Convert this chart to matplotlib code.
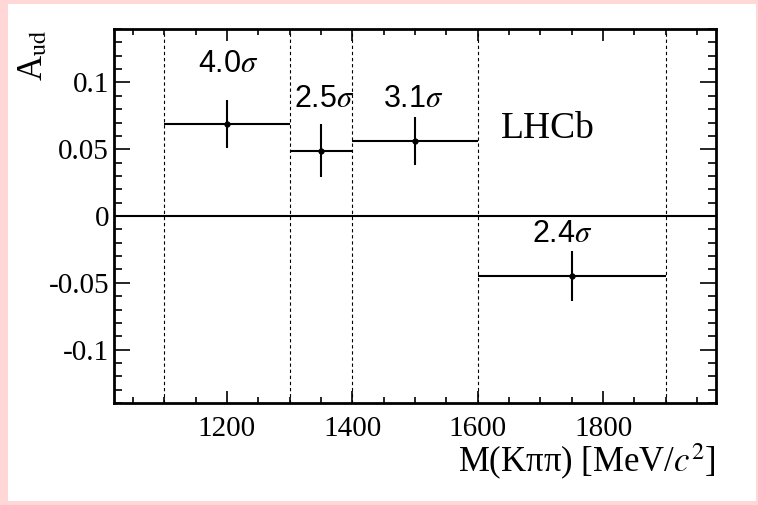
import numpy as np
import matplotlib.pyplot as plt
from matplotlib.patches import Rectangle
from matplotlib.ticker import MultipleLocator

# bins in M(Kpipi) [MeV/c^2]
bin_lo = [1100, 1300, 1400, 1600]
bin_hi = [1300, 1400, 1600, 1900]
a_ud = [0.069, 0.049, 0.056, -0.045]
a_err = [0.018, 0.020, 0.018, 0.019]
signif = ['4.0', '2.5', '3.1', '2.4']

plt.rcParams['font.family'] = ['Liberation Serif', 'DejaVu Serif']
plt.rcParams['mathtext.fontset'] = 'stix'

fig = plt.figure(figsize=(7.58, 5.05), dpi=100)
fig.patch.set_facecolor('#ffd7d7')
fig.patches.append(Rectangle((8/758, 4/505), 748/758, 497/505, transform=fig.transFigure,
                             facecolor='white', edgecolor='none', zorder=-10))

ax = fig.add_axes([114/758, 1-403/505, 602/758, 374/505])
ax.set_zorder(1)

lo = np.array(bin_lo)
hi = np.array(bin_hi)
xc = (lo + hi) / 2
xe = (hi - lo) / 2

# bin edges as dashed lines
for e in sorted(set(bin_lo + bin_hi)):
    ax.axvline(e, color='black', ls=(0, (3, 2.5)), lw=0.8, zorder=1)
ax.axhline(0, color='black', lw=1.5, zorder=1)

ax.errorbar(xc, a_ud, xerr=xe, yerr=a_err, fmt='o', ms=3.5, color='black',
            elinewidth=1.5, capsize=0, zorder=3)

# significance labels
lab_pos = [(1202, 0.1075), (1356, 0.0813), (1498, 0.0813), (1735, -0.0194)]
for (x, y), s in zip(lab_pos, signif):
    ax.text(x, y, s + r'$\sigma$', family='Liberation Sans', fontsize=22,
            ha='center', va='baseline')

ax.text(1637, 0.0582, 'LHCb', fontsize=27, ha='left', va='baseline')

ax.set_xlim(1020, 1980)
ax.set_ylim(-0.14, 0.14)
ax.xaxis.set_major_locator(MultipleLocator(200))
ax.xaxis.set_minor_locator(MultipleLocator(50))
ax.yaxis.set_major_locator(MultipleLocator(0.05))
ax.yaxis.set_minor_locator(MultipleLocator(0.01))
ax.set_yticks([-0.1, -0.05, 0, 0.05, 0.1])
ax.set_yticklabels(['-0.1', '-0.05', '0', '0.05', '0.1'])

ax.tick_params(which='both', direction='in', top=True, right=True, labelsize=21, width=1.2)
ax.tick_params(axis='y', which='major', length=11.5)
ax.tick_params(axis='y', which='minor', length=5.8)
ax.tick_params(axis='x', which='major', length=8.6, pad=9)
ax.tick_params(axis='x', which='minor', length=4.3)
for sp in ax.spines.values():
    sp.set_linewidth(2)

ax.set_xlabel(r'M(Kππ) [MeV/$c^2$]', fontsize=25, loc='right', labelpad=0)
ax.set_ylabel(r'A$_{\mathrm{ud}}$', fontsize=25, loc='top')
ax.yaxis.set_label_coords(-0.106, 1.0)

fig.savefig('out.png', dpi=100, facecolor=fig.get_facecolor())
